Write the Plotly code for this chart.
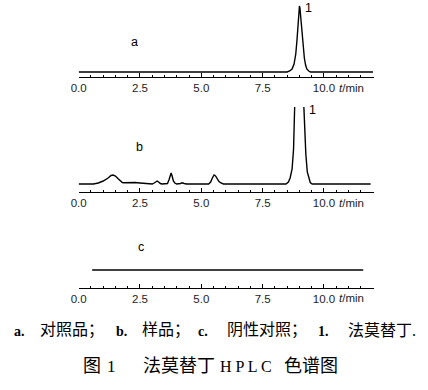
import plotly.graph_objects as go

# ---- data ----
t_a = [0.0, 8.5, 8.6, 8.7, 8.78, 8.85, 8.9, 8.95, 8.98, 9.0, 9.02, 9.05, 9.1, 9.15, 9.2, 9.25, 9.3, 9.38, 9.45, 12.0]
v_a = [0, 0, 1, 3, 8, 18, 32, 50, 62, 66, 64, 56, 40, 25, 14, 7, 3, 1, 0, 0]

t_b = [0.0, 0.6, 0.8, 1.0, 1.2, 1.32, 1.4, 1.5, 1.6, 1.7, 1.78, 1.85, 2.0, 2.3, 2.5, 2.7, 3.0,
       3.08, 3.15, 3.2, 3.26, 3.33, 3.4, 3.62, 3.68, 3.73, 3.77, 3.81, 3.86, 3.92, 4.0,
       4.15, 4.22, 4.3, 4.4, 5.3, 5.38, 5.45, 5.52, 5.58, 5.65, 5.72, 5.8, 5.9,
       8.45, 8.55, 8.62, 8.7, 8.76, 8.81, 8.85, 8.92, 9.0, 9.08, 9.15, 9.2, 9.26, 9.32, 9.38, 9.44, 9.52, 11.9]
v_b = [0, 0, 1, 3, 6, 8.5, 9, 8, 5.5, 3, 1.5, 1.2, 1.5, 1.5, 1, 0.5, 0,
       1, 2.5, 3, 2, 0.5, 0, 0.5, 4, 9, 11, 8, 3, 1, 0,
       0.5, 1.2, 0.5, 0, 0, 2, 6, 9, 8, 5, 2.5, 1, 0,
       0, 2, 6, 15, 35, 60, 85, 180, 260, 180, 95, 60, 30, 12, 5, 1.5, 0, 0]

t_c = [0.55, 11.6]
v_c = [0, 0]

tick_vals = [0.0, 2.5, 5.0, 7.5, 10.0]
tick_text = ["0.0", "2.5", "5.0", "7.5", "10.0"]
panel_labels = ["a", "b", "c"]
caption1_latin = ["a.", "b.", "c.", "1."]
caption1_cjk = ["对照品；", "样品；", "阴性对照；", "法莫替丁."]
caption2_parts = ["图", "1", "法莫替丁", "H P L C", "色谱图"]

W, H = 428, 390
def py(p):
    return 1 - p / H

fig = go.Figure()
line = dict(color="black", width=1.4)
fig.add_trace(go.Scatter(x=t_a, y=v_a, mode="lines", line=line, xaxis="x", yaxis="y"))
fig.add_trace(go.Scatter(x=t_b, y=v_b, mode="lines", line=line, xaxis="x2", yaxis="y2"))
fig.add_trace(go.Scatter(x=t_c, y=v_c, mode="lines", line=dict(color="black", width=1.5), xaxis="x3", yaxis="y3"))

xcommon = dict(range=[0, 12.04], domain=[72 / W, 373 / W], showline=True, linecolor="black", linewidth=1,
               ticks="inside", ticklen=4, tickwidth=1, tickcolor="black",
               tickvals=tick_vals, ticktext=tick_text, showgrid=False, zeroline=False,
               tickfont=dict(family="Liberation Sans, Arial", size=11.5, color="#222"),
               minor=dict(ticks="inside", dtick=0.5, ticklen=2.5, tickwidth=1, tickcolor="black", showgrid=False))
ycommon = dict(visible=False, showgrid=False, zeroline=False, fixedrange=True)

fig.update_layout(
    width=W, height=H, margin=dict(l=0, r=0, t=0, b=0),
    paper_bgcolor="white", plot_bgcolor="white", showlegend=False,
    xaxis=dict(xcommon, anchor="y"),
    xaxis2=dict(xcommon, anchor="y2"),
    xaxis3=dict(xcommon, anchor="y3"),
    yaxis=dict(ycommon, domain=[py(77), py(0)], range=[-5, 72], anchor="x"),
    yaxis2=dict(ycommon, domain=[py(192), py(107)], range=[-8, 77], anchor="x2"),
    yaxis3=dict(ycommon, domain=[py(288), py(230)], range=[-18, 40], anchor="x3"),
)

ann = []
lab_font = dict(family="Liberation Sans, Arial", size=12.5, color="black")
for lab, (xp, yp) in zip(panel_labels, [(129, 42), (134, 147), (136, 247)]):
    ann.append(dict(text=lab, x=xp / W, y=py(yp), xref="paper", yref="paper", showarrow=False,
                    xanchor="center", yanchor="middle", font=lab_font))
for (xp, yp) in [(306, 8), (310, 110)]:
    ann.append(dict(text="1", x=xp / W, y=py(yp), xref="paper", yref="paper", showarrow=False,
                    xanchor="center", yanchor="middle", font=lab_font))
for yp in [88, 203, 298]:
    ann.append(dict(text="<i>t</i>/min", x=335 / W, y=py(yp), xref="paper", yref="paper", showarrow=False,
                    xanchor="left", yanchor="middle", font=dict(family="Liberation Sans, Arial", size=11.5, color="#222")))

serif = "Liberation Serif, Noto Sans CJK SC"
for txt, xp in zip(caption1_latin, [4, 108, 192, 314]):
    ann.append(dict(text="<b>" + txt + "</b>", x=xp / W, y=py(331), xref="paper", yref="paper", showarrow=False,
                    xanchor="left", yanchor="middle", font=dict(family=serif, size=14, color="black")))
for txt, xp in zip(caption1_cjk, [31, 135, 221, 344]):
    ann.append(dict(text=txt, x=xp / W, y=py(330), xref="paper", yref="paper", showarrow=False,
                    xanchor="left", yanchor="middle", font=dict(family=serif, size=16, color="black")))
for txt, xp, fs in zip(caption2_parts, [74, 99, 136, 214, 279], [18, 17, 18, 16, 18]):
    ann.append(dict(text=txt, x=xp / W, y=py(366), xref="paper", yref="paper", showarrow=False,
                    xanchor="left", yanchor="middle", font=dict(family=serif, size=fs, color="black")))
fig.update_layout(annotations=ann)

fig.write_html("out.html")
